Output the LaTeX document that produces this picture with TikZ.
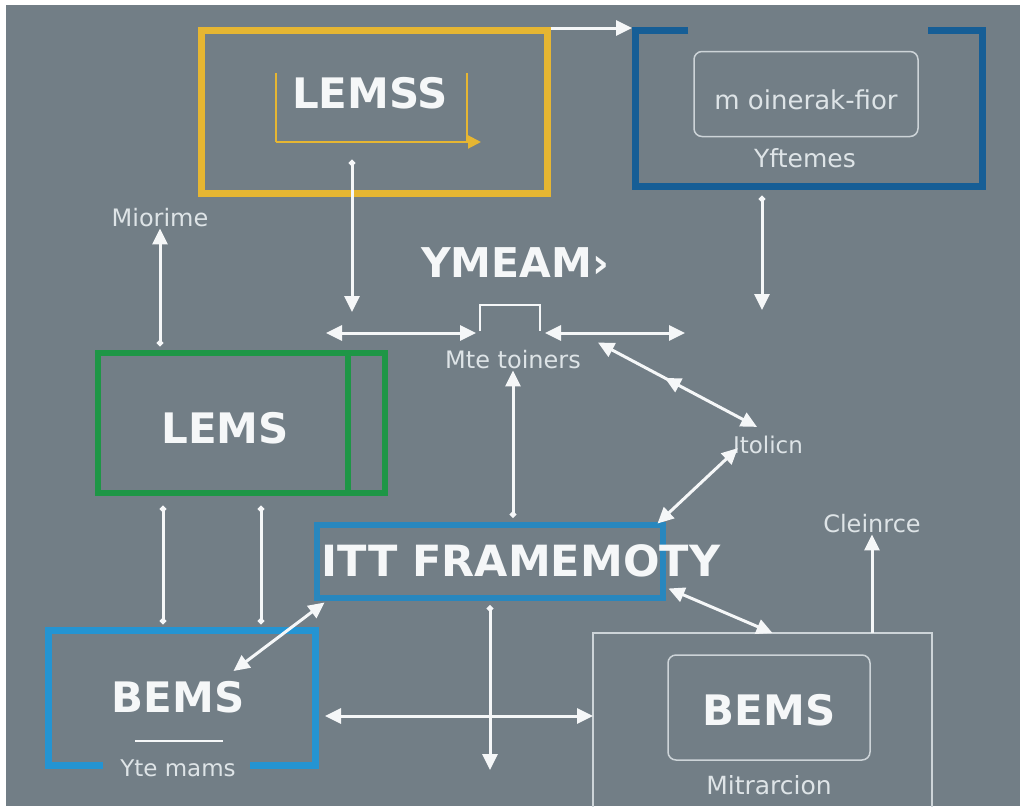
\documentclass[tikz,border=0pt]{standalone}
\usepackage{fontspec}
\setmainfont{DejaVu Sans}
\usetikzlibrary{arrows.meta,calc,decorations.markings}
\definecolor{slate}{RGB}{114,126,134}
\definecolor{gold}{RGB}{230,182,50}
\definecolor{navy}{RGB}{22,94,150}
\definecolor{leaf}{RGB}{30,150,70}
\definecolor{sky}{RGB}{40,135,190}
\definecolor{azure}{RGB}{36,148,210}
\definecolor{wire}{RGB}{245,247,248}
\definecolor{pale}{RGB}{222,228,231}
\definecolor{frame}{RGB}{205,212,216}
\begin{document}
\begin{tikzpicture}[x=1pt,y=-1pt,
  box/.style={draw,line width=7pt,inner sep=0pt},
  hold/.style={inner sep=0pt,outer sep=0pt},
  inbox/.style={draw=frame,line width=1.5pt,rounded corners=8pt,inner sep=0pt},
  big/.style={text=wire,font=\fontsize{#1}{#1}\selectfont\bfseries,inner sep=1pt},
  lbl/.style={text=pale,font=\fontsize{#1}{#1}\selectfont,inner sep=1pt},
  arr/.style={draw=wire,line width=3pt,-{Triangle[length=16pt,width=15pt]}},
  darr/.style={draw=wire,line width=3pt,{Circle[length=6pt]}-{Triangle[length=16pt,width=15pt]}},
  dbl/.style={draw=wire,line width=3pt,{Triangle[length=16pt,width=15pt]}-{Triangle[length=16pt,width=15pt]}},
  rail/.style={draw=wire,line width=3pt,{Circle[length=6pt]}-{Circle[length=6pt]}}]
  \useasboundingbox (0,0) rectangle (1020,806);
  \fill[white] (0,0) rectangle (1020,806);
  \fill[slate] (6,5) rectangle (1020,806);

  % top row
  \node[box,draw=gold,minimum width=346pt,minimum height=163pt] (lemss) at (374,112) {};
  \node[big=42] (lemsstxt) at (370,93) {LEMSS};
  \draw[gold,line width=2pt] (276,73) -- (276,142);
  \draw[gold,line width=2pt] (467,73) -- (467,142);
  \draw[gold,line width=2pt,-{Triangle[length=13pt,width=13pt]}] (276,142) -- (481,142);
  \node[hold,minimum width=347pt,minimum height=156pt] (sys) at (808.5,108) {};
  \draw[navy,line width=7pt] ($(sys.north west)+(53,0)$) -- (sys.north west) -- (sys.south west)
    -- (sys.south east) -- (sys.north east) -- ++(-54,0);
  \node[inbox,minimum width=224pt,minimum height=85pt] (gen) at (806,94) {};
  \node[lbl=26] (gentxt) at (806,100) {m oinerak-fior};
  \node[lbl=25] (vft) at (805,158) {Yftemes};

  % middle
  \node[big=41] (yme) at (515,263) {YMEAM›};
  \node[lbl=24] (mio) at (160,218) {Miorime};
  \node[lbl=24] (mt) at (513,360) {Mte toiners};
  \node[lbl=23] (ito) at (768,445) {Itolicn};
  \node[lbl=24] (cle) at (872,524) {Cleinrce};
  \node[hold,minimum width=60pt,minimum height=26pt] (gate) at (510,318) {};
  \draw[wire,line width=2.5pt] (gate.south west) -- (gate.north west) -- (gate.north east) -- (gate.south east);
  \coordinate (hl) at (326,333);
  \coordinate (hr) at (685,333);
  \coordinate (ydrop) at (352,312);
  \coordinate (vdrop) at (762,310);

  \node[box,draw=leaf,line width=6pt,minimum width=287pt,minimum height=140pt] (grn) at (241.5,423) {};
  \draw[leaf,line width=6pt] ($(grn.north east)+(-40,0)$) -- ($(grn.south east)+(-40,0)$);
  \node[big=42] (lems) at (225,428) {LEMS};

  \node[box,draw=sky,line width=6pt,minimum width=346pt,minimum height=73pt] (itt) at (489.5,561) {};
  \node[big=43] (itttxt) at (521,561) {ITT FRAMEMOTY};

  % bottom row
  \node[hold,minimum width=267pt,minimum height=135pt] (bl) at (181.5,697.5) {};
  \draw[azure,line width=7pt] ($(bl.south west)+(55,0)$) -- (bl.south west) -- (bl.north west)
    -- (bl.north east) -- (bl.south east) -- ++(-65,0);
  \node[big=42] (bems) at (178,697) {BEMS};
  \draw[wire,line width=2pt] (135,741) -- (223,741);
  \node[lbl=23] (ytm) at (178,768) {Yte mams};

  \node[hold,minimum width=339pt,minimum height=166pt] (bb) at (762.5,716) {};
  \draw[frame,line width=2pt] ($(bb.south west)+(0,12)$) -- (bb.north west) -- (bb.north east) -- ($(bb.south east)+(0,12)$);
  \node[inbox,minimum width=202pt,minimum height=105pt] (ben) at (769,707.5) {};
  \node[big=42] (benstxt) at (769,710) {BEMS};
  \node[lbl=25] (mit) at (769,785) {Mitrarcion};
  \coordinate (idrop) at (490,770);

  % connectors
  \draw[arr,shorten >=3pt] ($(lemss.north east)+(0,1)$) -- ($(lemss.north east -| sys.west)+(0,1)$);
  \draw[darr] (lemss.south -| ydrop) ++(0,-37) -- (ydrop);
  \draw[darr,shorten <=10pt] (sys.south -| vdrop) -- (vdrop);
  \draw[dbl] (hl) -- ($(gate.south west)+(-4,2)$);
  \draw[dbl] ($(gate.south east)+(5,2)$) -- (hr);
  \draw[darr,shorten <=4pt] (grn.north -| mio) -- (mio.south);
  \draw[darr,shorten <=4pt] (itt.north -| mt) -- (mt.south);
  \draw[dbl,postaction={decorate},decoration={markings,mark=at position .42 with {\arrowreversed{Triangle[length=16pt,width=15pt]}}}]
    ($(mt.north east)+(16,-7)$) -- ($(ito.north)+(-11,-8)$);
  \draw[dbl] ($(itt.north east)+(-8,2)$) -- ($(ito.south west)+(6,-7)$);
  \draw[arr] (bb.north -| cle) -- (cle.south);
  \draw[rail] ($(grn.south west)+(68,10)$) -- ($(bl.north west)+(115,-6)$);
  \draw[rail] ($(grn.south west)+(166,10)$) -- ($(bl.north west)+(213,-6)$);
  \draw[dbl] ($(itt.south west)+(11,2)$) -- ($(bl.north)+(52,41)$);
  \draw[dbl,shorten <=10pt] (bl.east |- bb.west) -- (bb.west);
  \draw[darr,shorten <=5pt] (itt.south -| idrop) -- (idrop);
  \draw[dbl] ($(itt.south east)+(3,-12)$) -- ($(bb.north)+(10,0)$);
\end{tikzpicture}
\end{document}
